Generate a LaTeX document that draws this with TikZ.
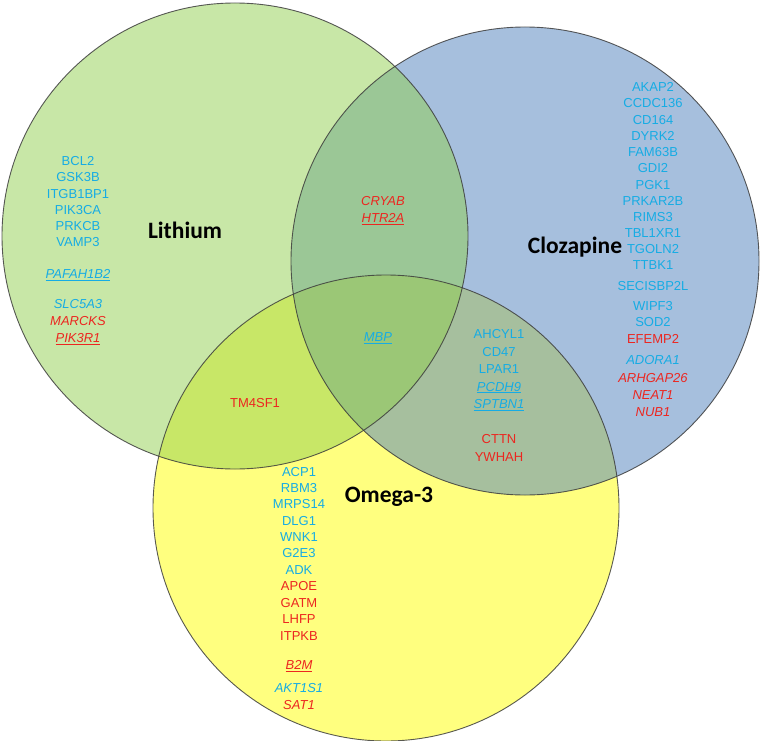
\documentclass[tikz,border=0pt]{standalone}
\usepackage{fontspec}
\setmainfont{Liberation Sans}
\newfontfamily\labfont{Carlito}
\definecolor{lithfill}{RGB}{146,208,80}
\definecolor{clozfill}{RGB}{79,129,189}
\definecolor{omegafill}{RGB}{255,255,0}
\definecolor{rimcol}{RGB}{60,60,60}
\definecolor{genblue}{RGB}{22,172,228}
\definecolor{genred}{RGB}{236,38,32}
\newcommand\ulx[1]{\underline{#1}}
\begin{document}
\begin{tikzpicture}[x=1pt,y=-1pt,
  setcirc/.style={fill opacity=0.5},
  rim/.style={draw=rimcol, line width=0.9pt, draw opacity=0.85},
  gene/.style={font=\fontsize{13}{13}\selectfont, inner sep=0pt, text height=9.3pt, text depth=0pt, anchor=center},
  gb/.style={gene, text=genblue},
  gr/.style={gene, text=genred},
  gbi/.style={gb, font=\fontsize{13}{13}\selectfont\itshape},
  gri/.style={gr, font=\fontsize{13}{13}\selectfont\itshape},
  setlabel/.style={font=\labfont\bfseries\fontsize{23.5}{24}\selectfont, inner sep=0pt, anchor=base, text=black}]
\useasboundingbox (0,0) rectangle (760,741);
\fill[white] (0,0) rectangle (760,741);
% circles
\fill[setcirc, omegafill] (386,508) circle[radius=233];
\fill[setcirc, clozfill] (525,261) circle[radius=234];
\fill[setcirc, lithfill] (235,236) circle[radius=233];
\draw[rim] (386,508) circle[radius=233];
\draw[rim] (525,261) circle[radius=234];
\draw[rim] (235,236) circle[radius=233];
% labels
\node[setlabel] (lith) at (185,238) {Lithium};
\node[setlabel] (cloz) at (575,253) {Clozapine};
\node[setlabel] (omega) at (389,502) {Omega-3};
% Lithium only
\node[gb] (l1) at (78,161) {BCL2};
\node[gb] (l2) at (78,177) {GSK3B};
\node[gb] (l3) at (78,193.5) {ITGB1BP1};
\node[gb] (l4) at (78,210) {PIK3CA};
\node[gb] (l5) at (78,226) {PRKCB};
\node[gb] (l6) at (78,242) {VAMP3};
\node[gbi] (l7) at (78,274) {\ulx{PAFAH1B2}};
\node[gbi] (l8) at (78,304) {SLC5A3};
\node[gri] (l9) at (78,321) {MARCKS};
\node[gri] (l10) at (78,338) {\ulx{PIK3R1}};
% Lithium & Clozapine
\node[gri] (lc1) at (383,201) {CRYAB};
\node[gri] (lc2) at (383,218) {\ulx{HTR2A}};
% all three
\node[gbi] (all1) at (378,337) {\ulx{MBP}};
% Lithium & Omega-3
\node[gr] (lo1) at (255,403) {TM4SF1};
% Clozapine & Omega-3
\node[gb] (co1) at (499,334) {AHCYL1};
\node[gb] (co2) at (499,351.5) {CD47};
\node[gb] (co3) at (499,369) {LPAR1};
\node[gbi] (co4) at (499,386.5) {\ulx{PCDH9}};
\node[gbi] (co5) at (499,404) {\ulx{SPTBN1}};
\node[gr] (co6) at (499,438.5) {CTTN};
\node[gr] (co7) at (499,456.5) {YWHAH};
% Clozapine only
\node[gb] (c1) at (653,87) {AKAP2};
\node[gb] (c2) at (653,103) {CCDC136};
\node[gb] (c3) at (653,120) {CD164};
\node[gb] (c4) at (653,136) {DYRK2};
\node[gb] (c5) at (653,152) {FAM63B};
\node[gb] (c6) at (653,168) {GDI2};
\node[gb] (c7) at (653,185) {PGK1};
\node[gb] (c8) at (653,201) {PRKAR2B};
\node[gb] (c9) at (653,217) {RIMS3};
\node[gb] (c10) at (653,233) {TBL1XR1};
\node[gb] (c11) at (653,249) {TGOLN2};
\node[gb] (c12) at (653,265) {TTBK1};
\node[gb] (c13) at (653,286) {SECISBP2L};
\node[gb] (c14) at (653,306) {WIPF3};
\node[gb] (c15) at (653,322) {SOD2};
\node[gr] (c16) at (653,338.5) {EFEMP2};
\node[gbi] (c17) at (653,360) {ADORA1};
\node[gri] (c18) at (653,378) {ARHGAP26};
\node[gri] (c19) at (653,395) {NEAT1};
\node[gri] (c20) at (653,412) {NUB1};
% Omega-3 only
\node[gb] (o1) at (299,472) {ACP1};
\node[gb] (o2) at (299,488) {RBM3};
\node[gb] (o3) at (299,504) {MRPS14};
\node[gb] (o4) at (299,520.5) {DLG1};
\node[gb] (o5) at (299,537) {WNK1};
\node[gb] (o6) at (299,553) {G2E3};
\node[gb] (o7) at (299,569.5) {ADK};
\node[gr] (o8) at (299,586) {APOE};
\node[gr] (o9) at (299,602.5) {GATM};
\node[gr] (o10) at (299,619) {LHFP};
\node[gr] (o11) at (299,635.5) {ITPKB};
\node[gri] (o12) at (299,665) {\ulx{B2M}};
\node[gbi] (o13) at (299,688) {AKT1S1};
\node[gri] (o14) at (299,705) {SAT1};
\end{tikzpicture}
\end{document}
